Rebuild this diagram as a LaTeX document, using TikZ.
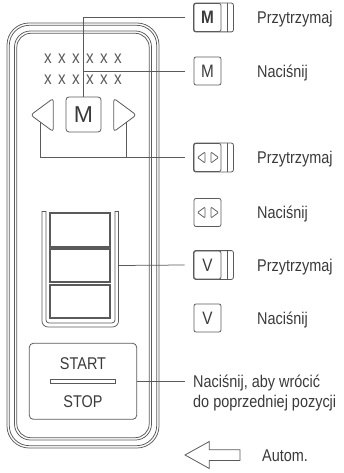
\documentclass[tikz,border=0pt]{standalone}
\usepackage{fontspec}
\setmainfont{Liberation Sans}[FakeStretch=0.85]
\newfontfamily\plainsans{Liberation Sans}
\definecolor{lc}{HTML}{5A5A5A}
\definecolor{tc}{HTML}{3A3A3A}
\begin{document}
\begin{tikzpicture}[x=1pt,y=-1pt,
  ln/.style={draw=lc, line width=0.75pt},
  kb/.style={draw=lc, line width=0.8pt, rounded corners=2pt},
  lbl/.style={anchor=base west, inner sep=0, text=tc, font=\fontsize{17}{20}\selectfont},
  keyb/.style={draw=lc, line width=0.8pt, rounded corners=2pt, minimum width=27pt, minimum height=28pt, inner sep=0, text=tc, font=\fontsize{18}{20}\selectfont},
  xch/.style={inner sep=0, text=lc, font=\fontsize{18}{20}\selectfont},
  slbtn/.style={draw=lc, line width=1.2pt, minimum width=60pt, inner sep=0},
]
\useasboundingbox (0,0) rectangle (344,473);

% device frame
\draw[ln, rounded corners=22pt] (7,23) rectangle (159,448);
\draw[ln, rounded corners=20pt] (9.3,25.3) rectangle (156.7,445.7);
\draw[ln, rounded corners=16pt] (14.5,31) rectangle (151.5,440);
\draw[ln, rounded corners=14pt] (16.8,33.3) rectangle (149.2,437.7);

% display
\foreach \i in {0,...,5} {
  \node[xch] (xa\i) at (48+14*\i,59) {x};
  \node[xch] (xb\i) at (48+14*\i,80) {x};
}

% M key and arrows
\node[draw=lc, line width=0.8pt, rounded corners=3pt, minimum width=35pt, minimum height=35pt, inner sep=0, text=tc, font=\plainsans\fontsize{23}{25}\selectfont] (mkey) at (83.5,114.5) {M};
\draw[ln, line width=0.8pt, rounded corners=3pt] (53.3,98.3) -- (30.7,115) -- (53.3,131.7) -- cycle;
\draw[ln, line width=0.8pt, rounded corners=3pt] (113.7,98.3) -- (136.3,115) -- (113.7,131.7) -- cycle;
\coordinate (lap) at (40.7,122.5);
\coordinate (rap) at (126.3,122.5);

% slider
\draw[ln, rounded corners=6pt] (42,211) -- (42,327) -- (118.5,327) -- (118.5,211);
\draw[ln, rounded corners=3pt] (46,211) -- (46,323) -- (115,323) -- (115,211);
\draw[ln] (42,211) -- (46,211);
\draw[ln] (115,211) -- (118.5,211);
\node[slbtn, minimum height=34pt] (sb1) at (80,230) {};
\node[slbtn, minimum height=33pt] (sb2) at (80,265.5) {};
\node[slbtn, minimum height=33pt] (sb3) at (80,301.5) {};
\coordinate (slr) at (118.5,265.5);

% start/stop
\node[draw=lc, line width=0.8pt, rounded corners=4pt, minimum width=107.4pt, minimum height=76pt, inner sep=0] (ss) at (83,381.3) {};
\node[lbl, anchor=base] (start) at (83,369) {START};
\node[draw=lc, line width=0.8pt, minimum width=65pt, minimum height=4.3pt, inner sep=0] (bar) at (82.5,381.2) {};
\node[lbl, anchor=base] (stop) at (83,407) {STOP};

% legend keys
\node[keyb, font=\bfseries\fontsize{18}{20}\selectfont] (k1) at (207.5,17.5) {M};
\node[keyb] (k2) at (207.5,71) {M};
\node[keyb] (k3) at (207.5,157.5) {};
\node[keyb] (k4) at (207.5,212.5) {};
\node[keyb] (k5) at (207.5,265) {V};
\node[keyb] (k6) at (207.5,318) {V};
\foreach \k in {k1,k3,k5} {
  \draw[kb] (\k.north west) rectangle ([xshift=12pt]\k.south east);
  \draw[kb] ([xshift=6pt]\k.north east) -- ([xshift=6pt]\k.south east);
}
\foreach \k in {k3,k4} {
  \draw[ln, rounded corners=1pt] ([xshift=-2.5pt,yshift=5.5pt]\k.center) -- ([xshift=-10pt]\k.center) -- ([xshift=-2.5pt,yshift=-5.5pt]\k.center) -- cycle;
  \draw[ln, rounded corners=1pt] ([xshift=3.5pt,yshift=5.5pt]\k.center) -- ([xshift=11pt]\k.center) -- ([xshift=3.5pt,yshift=-5.5pt]\k.center) -- cycle;
}

% labels
\node[lbl] (t1) at (257,23.6) {Przytrzymaj};
\node[lbl] (t2) at (257,77.1) {Naciśnij};
\node[lbl] (t3) at (257,163.6) {Przytrzymaj};
\node[lbl] (t4) at (257,218.6) {Naciśnij};
\node[lbl] (t5) at (257,271.1) {Przytrzymaj};
\node[lbl] (t6) at (257,324.1) {Naciśnij};
\node[lbl] (t7a) at (193,387) {Naciśnij, aby wrócić};
\node[lbl] (t7b) at (193,407) {do poprzedniej pozycji};
\coordinate (ssend) at (185,381.3);

% connectors
\draw[ln] (mkey.north) |- ([xshift=-9pt]k1.west);
\draw[ln] (mkey.north) |- ([xshift=-9pt]k2.west);
\draw[ln] (lap) |- ([xshift=-9pt]k3.west);
\draw[ln] (rap) -- (rap |- k3.west);
\draw[ln] (slr) -- ([xshift=-9pt]k5.west);
\draw[ln] (ss.east) -- (ssend);

% automatic arrow
\draw[ln, line width=0.8pt] (185,455) -- (209.3,441.5) -- (209.3,449.8) -- (240,449.8) -- (240,460.5) -- (209.3,460.5) -- (209.3,468.5) -- cycle;
\node[lbl] (t8) at (262,461.1) {Autom.};
\end{tikzpicture}
\end{document}
